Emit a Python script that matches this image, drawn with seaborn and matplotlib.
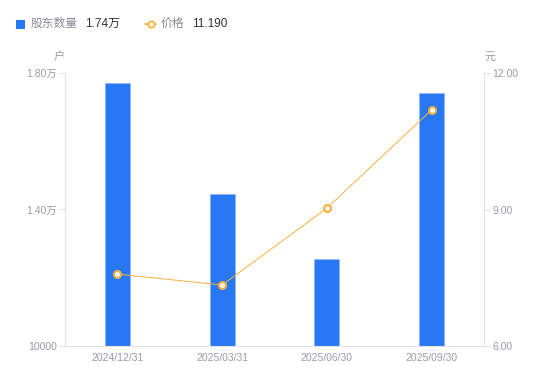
import matplotlib
matplotlib.use('Agg')
import matplotlib.pyplot as plt
import seaborn as sns
import pandas as pd
from matplotlib.lines import Line2D
from matplotlib.patches import Rectangle

# data
dates = ['2024/12/31', '2025/03/31', '2025/06/30', '2025/09/30']
holders = [17700, 14450, 12550, 17400]
prices = [7.58, 7.34, 9.03, 11.19]
left_ticks = [10000, 14000, 18000]
left_labels = ['10000', '1.40万', '1.80万']
right_ticks = [6.0, 9.0, 12.0]

sns.set_style('white')
plt.rcParams['font.family'] = ['Liberation Sans', 'Noto Sans CJK SC', 'DejaVu Sans']

df = pd.DataFrame({'date': dates, 'holders': holders, 'price': prices})

bar_color = '#2878f6'
line_color = '#f7b03c'
axis_color = '#e3e3e8'
label_color = '#9a9aab'

fig = plt.figure(figsize=(5.5, 3.81), dpi=100)
ax = fig.add_axes([65 / 550, 1 - 346 / 381, (484 - 65) / 550, (346 - 73) / 381])

sns.barplot(data=df, x='date', y='holders', color=bar_color, width=0.24,
            saturation=1, ax=ax, edgecolor='#8fb6fb', linewidth=0.6)
ax.set_ylim(10000, 18000)
ax.set_yticks(left_ticks)
ax.set_yticklabels(left_labels)

ax2 = ax.twinx()
sns.lineplot(x=list(range(len(dates))), y=prices, ax=ax2, color=line_color,
             linewidth=0.7, marker='o', markersize=5, markerfacecolor='white',
             markeredgecolor=line_color, markeredgewidth=1.5)
ax2.set_ylim(6, 12)
ax2.set_yticks(right_ticks)
ax2.set_yticklabels(['%.2f' % t for t in right_ticks])
ax.set_xlim(-0.5, len(dates) - 0.5)

for a in (ax, ax2):
    a.set_xlabel('')
    a.set_ylabel('')
    for s in a.spines.values():
        s.set_visible(False)
    a.grid(False)

ax.spines['left'].set_visible(True)
ax.spines['bottom'].set_visible(True)
ax2.spines['right'].set_visible(True)
for s in (ax.spines['left'], ax.spines['bottom'], ax2.spines['right']):
    s.set_color(axis_color)
    s.set_linewidth(0.8)

ax.tick_params(axis='y', length=4, color=axis_color, labelsize=7.5, labelcolor=label_color, pad=2, left=True)
ax.tick_params(axis='x', length=0, labelsize=7.5, labelcolor=label_color, pad=5)
ax2.tick_params(axis='y', length=4, color=axis_color, labelsize=7.5, labelcolor=label_color, pad=2, right=True)

# unit labels
fig.text(59 / 550, 1 - 57 / 381, '户', fontsize=8, color=label_color, ha='center', va='center')
fig.text(490 / 550, 1 - 57 / 381, '元', fontsize=8, color=label_color, ha='center', va='center')

# legend row
fig.patches.append(Rectangle((16 / 550, 1 - 29 / 381), 9 / 550, 9 / 381, transform=fig.transFigure,
                             facecolor=bar_color, edgecolor='none'))
fig.text(31 / 550, 1 - 24 / 381, '股东数量', fontsize=8.5, color='#8a8a99', va='center')
fig.text(85 / 550, 1 - 24 / 381, '1.74万', fontsize=8.5, color='#333333', va='center')
fig.lines.append(Line2D([145 / 550, 156 / 550], [1 - 24 / 381, 1 - 24 / 381], transform=fig.transFigure,
                        color=line_color, linewidth=1.2))
fig.lines.append(Line2D([150.5 / 550], [1 - 24 / 381], transform=fig.transFigure, color=line_color,
                        marker='o', markersize=4.5, markerfacecolor='white', markeredgewidth=1.3,
                        linestyle='none'))
fig.text(161 / 550, 1 - 24 / 381, '价格', fontsize=8.5, color='#8a8a99', va='center')
fig.text(192 / 550, 1 - 24 / 381, '11.190', fontsize=8.5, color='#333333', va='center')

fig.savefig('out.png', dpi=100)
